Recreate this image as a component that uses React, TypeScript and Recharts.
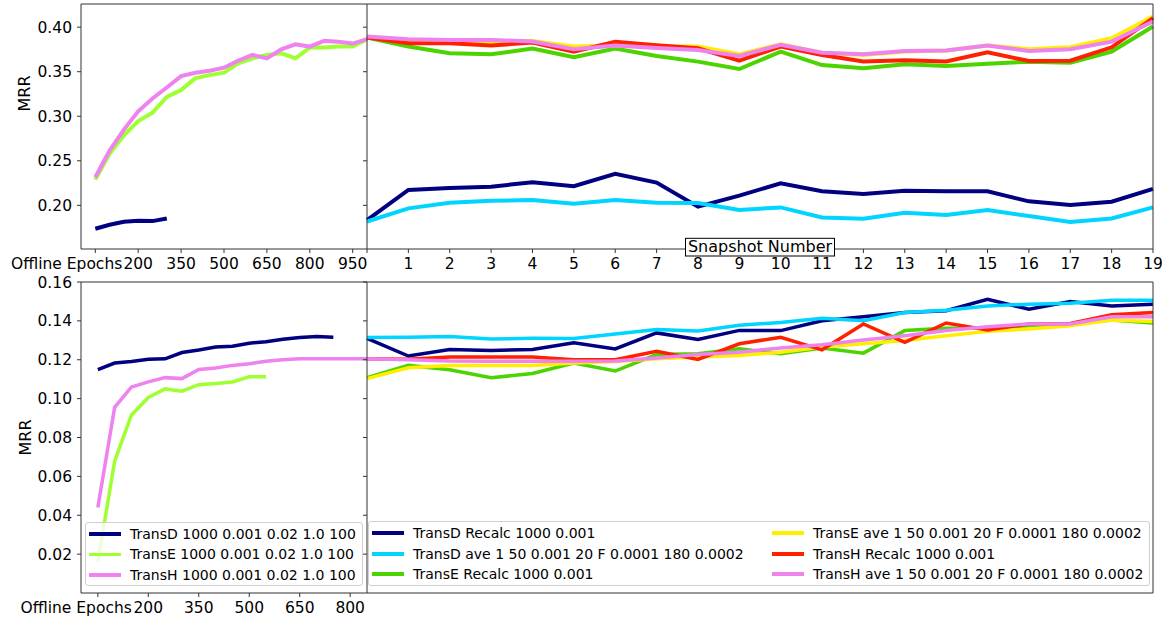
import React from "react";
import { LineChart, Line, XAxis, YAxis, Legend } from "recharts";

const FONT = "DejaVu Sans, sans-serif";
const AXIS = "#333";
const TICK_SIZE = 15.5;

// offline training runs (left panels)
const topEpochs = [50, 100, 150, 200, 250, 300, 350, 400, 450, 500, 550, 600, 650, 700, 750, 800, 850, 900, 950, 1000];
const topTransDOffline = [0.1737, 0.1782, 0.1815, 0.1827, 0.1823, 0.1853];
const topTransEOffline = [0.2289, 0.2579, 0.2786, 0.2947, 0.3041, 0.3218, 0.3293, 0.3428, 0.3462, 0.3489, 0.3594, 0.365, 0.3688, 0.3707, 0.365, 0.3771, 0.3771, 0.3782, 0.3782, 0.3865];
const topTransHOffline = [0.2316, 0.2616, 0.285, 0.3056, 0.32, 0.3323, 0.345, 0.3489, 0.351, 0.3545, 0.3624, 0.3688, 0.365, 0.3752, 0.3808, 0.3782, 0.3846, 0.3835, 0.3816, 0.3865];

const bottomEpochs = [50, 100, 150, 200, 250, 300, 350, 400, 450, 500, 550, 600, 650, 700, 750, 800, 850];
const bottomTransDOffline = [0.1149, 0.1183, 0.1191, 0.1202, 0.1205, 0.1237, 0.125, 0.1265, 0.127, 0.1285, 0.1293, 0.1305, 0.1314, 0.132, 0.1316];
const bottomTransEOffline = [0.016, 0.0678, 0.0916, 0.1006, 0.105, 0.1038, 0.1072, 0.1078, 0.1086, 0.1112, 0.1113];
const bottomTransHOffline = [0.044, 0.0955, 0.106, 0.1086, 0.1108, 0.1103, 0.115, 0.1158, 0.1171, 0.118, 0.1192, 0.12, 0.1205, 0.1205, 0.1205, 0.1205, 0.1205];

// online snapshots (right panels)
const snapshots = [0, 1, 2, 3, 4, 5, 6, 7, 8, 9, 10, 11, 12, 13, 14, 15, 16, 17, 18, 19];
const topTransDRecalc = [0.1834, 0.2173, 0.2195, 0.221, 0.2259, 0.2214, 0.2353, 0.2255, 0.1985, 0.2109, 0.2248, 0.2158, 0.2128, 0.2165, 0.2158, 0.2158, 0.2045, 0.2003, 0.2041, 0.2184];
const topTransDAve = [0.1819, 0.1966, 0.203, 0.2052, 0.206, 0.2018, 0.206, 0.203, 0.2026, 0.1947, 0.1977, 0.1864, 0.1849, 0.1917, 0.1891, 0.1947, 0.188, 0.1812, 0.1853, 0.1977];
const topTransERecalc = [0.3883, 0.3782, 0.3707, 0.3695, 0.3759, 0.3662, 0.3759, 0.3677, 0.3613, 0.353, 0.3726, 0.3575, 0.3538, 0.3583, 0.3564, 0.359, 0.3613, 0.3601, 0.3726, 0.4008];
const topTransEAve = [0.3887, 0.3857, 0.3842, 0.3835, 0.3846, 0.3782, 0.3797, 0.3782, 0.3782, 0.3695, 0.3808, 0.3714, 0.3688, 0.3726, 0.3737, 0.3793, 0.3752, 0.3774, 0.3876, 0.412];
const topTransHRecalc = [0.3883, 0.382, 0.382, 0.3793, 0.3827, 0.3726, 0.3835, 0.3797, 0.3763, 0.3624, 0.3782, 0.3688, 0.3616, 0.3628, 0.3616, 0.3718, 0.362, 0.3624, 0.3774, 0.4101];
const topTransHAve = [0.3895, 0.3865, 0.3857, 0.3857, 0.3838, 0.3752, 0.3793, 0.3767, 0.3744, 0.3677, 0.3801, 0.3714, 0.3695, 0.3733, 0.3737, 0.3793, 0.3733, 0.3752, 0.3838, 0.4064];

const bottomTransDRecalc = [0.131, 0.1219, 0.1253, 0.1248, 0.1253, 0.1287, 0.1256, 0.1338, 0.1304, 0.1351, 0.135, 0.1401, 0.1421, 0.1443, 0.1452, 0.1511, 0.146, 0.1499, 0.1477, 0.1486];
const bottomTransDAve = [0.1314, 0.1316, 0.1319, 0.1307, 0.131, 0.1309, 0.1333, 0.1356, 0.1348, 0.1377, 0.1392, 0.1414, 0.1401, 0.1443, 0.1455, 0.1477, 0.1486, 0.1491, 0.1506, 0.1506];
const bottomTransERecalc = [0.1108, 0.1171, 0.1149, 0.1107, 0.1129, 0.1183, 0.1142, 0.1227, 0.1231, 0.1256, 0.1231, 0.1261, 0.1234, 0.135, 0.1362, 0.1363, 0.1375, 0.1384, 0.1404, 0.1389];
const bottomTransEAve = [0.1103, 0.1159, 0.1171, 0.117, 0.117, 0.1183, 0.1191, 0.1205, 0.1214, 0.1222, 0.1239, 0.1265, 0.1282, 0.1299, 0.1324, 0.1346, 0.1358, 0.1375, 0.1404, 0.1397];
const bottomTransHRecalc = [0.1205, 0.1202, 0.1214, 0.1214, 0.1214, 0.12, 0.12, 0.1244, 0.1202, 0.1282, 0.1316, 0.1251, 0.1384, 0.129, 0.1389, 0.1353, 0.1384, 0.1387, 0.1431, 0.1443];
const bottomTransHAve = [0.1205, 0.12, 0.1193, 0.1192, 0.1192, 0.1192, 0.1193, 0.1209, 0.1227, 0.1239, 0.1261, 0.1277, 0.1302, 0.1324, 0.135, 0.137, 0.1384, 0.1384, 0.1421, 0.1421];

// ticks and labels
const topEpochTicks = [50, 200, 350, 500, 650, 800, 950];
const bottomEpochTicks = [50, 200, 350, 500, 650, 800];
const topMrrTicks = [0.2, 0.25, 0.3, 0.35, 0.4];
const bottomMrrTicks = [0.02, 0.04, 0.06, 0.08, 0.1, 0.12, 0.14, 0.16];
const firstEpochLabel = "Offline Epochs";

const offlineNames = ["TransD 1000 0.001 0.02 1.0 100", "TransE 1000 0.001 0.02 1.0 100", "TransH 1000 0.001 0.02 1.0 100"];
const offlineColors = ["#000080", "#a0ff32", "#ee82ee"];
const onlineNames = [
  "TransD Recalc 1000 0.001",
  "TransD ave 1 50 0.001 20 F 0.0001 180 0.0002",
  "TransE Recalc 1000 0.001",
  "TransE ave 1 50 0.001 20 F 0.0001 180 0.0002",
  "TransH Recalc 1000 0.001",
  "TransH ave 1 50 0.001 20 F 0.0001 180 0.0002",
];
const onlineColors = ["#000080", "#00d4ff", "#4cd400", "#ffee00", "#ff2000", "#ee82ee"];

const pts = (xs: number[], ys: number[]) => ys.map((y, i) => ({ x: xs[i], y }));

const topOffline = [topTransDOffline, topTransEOffline, topTransHOffline];
const bottomOffline = [bottomTransDOffline, bottomTransEOffline, bottomTransHOffline];
const topOnline = [topTransDRecalc, topTransDAve, topTransERecalc, topTransEAve, topTransHRecalc, topTransHAve];
const bottomOnline = [bottomTransDRecalc, bottomTransDAve, bottomTransERecalc, bottomTransEAve, bottomTransHRecalc, bottomTransHAve];

const TOP_DOMAIN: [number, number] = [0.151, 0.426];
const BOTTOM_DOMAIN: [number, number] = [0, 0.16];

function EpochTick(props: any) {
  const { x, y, payload, index, shift } = props;
  const first = index === 0;
  return (
    <text x={first ? x + shift : x} y={y} dy={14} textAnchor={first ? "end" : "middle"} fill="#000" fontSize={TICK_SIZE} fontFamily={FONT}>
      {first ? firstEpochLabel : payload.value}
    </text>
  );
}

function SnapshotTick(props: any) {
  const { x, y, payload } = props;
  if (payload.value === 0) return <g />;
  return (
    <text x={x} y={y} dy={14} textAnchor="middle" fill="#000" fontSize={TICK_SIZE} fontFamily={FONT}>
      {payload.value}
    </text>
  );
}

function MrrLabel(props: any) {
  const { viewBox, pos } = props;
  const cx = 25;
  const cy = viewBox.y + viewBox.height * pos;
  return (
    <text x={cx} y={cy} transform={`rotate(-90 ${cx} ${cy})`} textAnchor="middle" dominantBaseline="central" fontSize={16} fontFamily={FONT} fill="#000">
      MRR
    </text>
  );
}

function SnapshotLabel(props: any) {
  const { viewBox } = props;
  const cx = viewBox.x + viewBox.width / 2;
  const ay = viewBox.y;
  return (
    <g>
      <rect x={cx - 74.5} y={ay - 10.7} width={149} height={17.7} fill="#fff" stroke="#000" strokeWidth={1} />
      <text x={cx} y={ay + 3} textAnchor="middle" fontSize={16} fontFamily={FONT} fill="#000">
        Snapshot Number
      </text>
    </g>
  );
}

function LegendBox({ names, colors, rows, colWidth, lineWidth }: { names: string[]; colors: string[]; rows: number; colWidth: number; lineWidth: number }) {
  return (
    <div
      style={{
        boxSizing: "border-box",
        width: "100%",
        height: "100%",
        border: "1px solid #d0d0d0",
        borderRadius: 3,
        background: "rgba(255,255,255,0.8)",
        paddingTop: 1,
        display: "grid",
        gridAutoFlow: "column",
        gridTemplateRows: `repeat(${rows}, 20.5px)`,
        gridAutoColumns: `${colWidth}px`,
        fontFamily: FONT,
        fontSize: 14,
        color: "#000",
      }}
    >
      {names.map((n, i) => (
        <div key={n} style={{ display: "flex", alignItems: "center", whiteSpace: "nowrap" }}>
          <span style={{ display: "inline-block", width: 32, height: lineWidth, background: colors[i], marginLeft: 3, marginRight: 9 }} />
          <span>{n}</span>
        </div>
      ))}
    </div>
  );
}

const tickText = { fill: "#000", fontSize: TICK_SIZE, fontFamily: FONT };
const line = { stroke: AXIS, strokeWidth: 1 };

export default function App() {
  return (
    <div style={{ position: "absolute", left: 0, top: 0, width: 1167, height: 620, background: "#fff", overflow: "hidden" }}>
      {/* top left: offline epochs */}
      <div style={{ position: "absolute", left: 0, top: 0 }}>
        <LineChart width={372} height={290} margin={{ top: 0, right: 5, bottom: 10, left: 0 }}>
          <XAxis dataKey="x" type="number" domain={[0, 1000]} ticks={topEpochTicks} tickSize={4} axisLine={line} tickLine={line} tick={(p: any) => <EpochTick {...p} shift={27} />} height={31} interval={0} />
          <XAxis xAxisId="top" orientation="top" type="number" domain={[0, 1000]} height={4} axisLine={line} tick={false} tickLine={false} />
          <YAxis type="number" domain={TOP_DOMAIN} ticks={topMrrTicks} width={81} tickSize={4} tickMargin={5} axisLine={line} tickLine={line} tick={tickText} tickFormatter={(v: number) => v.toFixed(2)} interval={0} label={<MrrLabel pos={0.365} />} />
          {topOffline.map((vals, i) => (
            <Line key={offlineNames[i]} data={pts(topEpochs, vals)} dataKey="y" name={offlineNames[i]} stroke={offlineColors[i]} strokeWidth={4} dot={false} isAnimationActive={false} />
          ))}
        </LineChart>
      </div>

      {/* top right: snapshots */}
      <div style={{ position: "absolute", left: 362, top: 0 }}>
        <LineChart width={800} height={290} margin={{ top: 0, right: 0, bottom: 10, left: 0 }}>
          <XAxis dataKey="x" type="number" domain={[0, 19]} ticks={snapshots} tickSize={4} axisLine={line} tickLine={line} tick={<SnapshotTick />} height={31} interval={0} label={<SnapshotLabel />} />
          <XAxis xAxisId="top" orientation="top" type="number" domain={[0, 19]} height={4} axisLine={line} tick={false} tickLine={false} />
          <YAxis type="number" domain={TOP_DOMAIN} ticks={topMrrTicks} width={5} tickSize={4} axisLine={line} tickLine={line} tickFormatter={() => ""} interval={0} />
          <YAxis yAxisId="right" orientation="right" type="number" domain={TOP_DOMAIN} width={9} axisLine={line} tick={false} tickLine={false} />
          {topOnline.map((vals, i) => (
            <Line key={onlineNames[i]} data={pts(snapshots, vals)} dataKey="y" name={onlineNames[i]} stroke={onlineColors[i]} strokeWidth={4} dot={false} isAnimationActive={false} />
          ))}
        </LineChart>
      </div>

      {/* bottom left: offline epochs */}
      <div style={{ position: "absolute", left: 0, top: 272 }}>
        <LineChart width={372} height={348} margin={{ top: 0, right: 5, bottom: 0, left: 0 }}>
          <XAxis dataKey="x" type="number" domain={[0, 850]} ticks={bottomEpochTicks} tickSize={4} axisLine={line} tickLine={line} tick={(p: any) => <EpochTick {...p} shift={34} />} height={27} interval={0} />
          <XAxis xAxisId="top" orientation="top" type="number" domain={[0, 850]} height={10} axisLine={line} tick={false} tickLine={false} />
          <YAxis type="number" domain={BOTTOM_DOMAIN} ticks={bottomMrrTicks} width={81} tickSize={4} tickMargin={5} axisLine={line} tickLine={line} tick={tickText} tickFormatter={(v: number) => v.toFixed(2)} interval={0} label={<MrrLabel pos={0.5} />} />
          {bottomOffline.map((vals, i) => (
            <Line key={offlineNames[i]} data={pts(bottomEpochs, vals)} dataKey="y" name={offlineNames[i]} stroke={offlineColors[i]} strokeWidth={3.5} dot={false} isAnimationActive={false} />
          ))}
          <Legend
            layout="vertical"
            align="center"
            verticalAlign="middle"
            wrapperStyle={{ left: 85, top: 249.7, width: 278, height: 64 }}
            content={<LegendBox names={offlineNames} colors={offlineColors} rows={3} colWidth={276} lineWidth={3.5} />}
          />
        </LineChart>
      </div>

      {/* bottom right: snapshots */}
      <div style={{ position: "absolute", left: 362, top: 272 }}>
        <LineChart width={800} height={348} margin={{ top: 0, right: 0, bottom: 0, left: 0 }}>
          <XAxis dataKey="x" type="number" domain={[0, 19]} height={27} axisLine={line} tick={false} tickLine={false} />
          <XAxis xAxisId="top" orientation="top" type="number" domain={[0, 19]} ticks={snapshots} height={10} tickSize={4} axisLine={line} tickLine={line} tickFormatter={() => ""} interval={0} />
          <YAxis type="number" domain={BOTTOM_DOMAIN} ticks={bottomMrrTicks} width={5} tickSize={4} axisLine={line} tickLine={line} tickFormatter={() => ""} interval={0} />
          <YAxis yAxisId="right" orientation="right" type="number" domain={BOTTOM_DOMAIN} width={9} axisLine={line} tick={false} tickLine={false} />
          {bottomOnline.map((vals, i) => (
            <Line key={onlineNames[i]} data={pts(snapshots, vals)} dataKey="y" name={onlineNames[i]} stroke={onlineColors[i]} strokeWidth={3.5} dot={false} isAnimationActive={false} />
          ))}
          <Legend
            layout="vertical"
            align="center"
            verticalAlign="middle"
            wrapperStyle={{ left: 6, top: 249, width: 782, height: 65 }}
            content={<LegendBox names={onlineNames} colors={onlineColors} rows={3} colWidth={400} lineWidth={4} />}
          />
        </LineChart>
      </div>
    </div>
  );
}
